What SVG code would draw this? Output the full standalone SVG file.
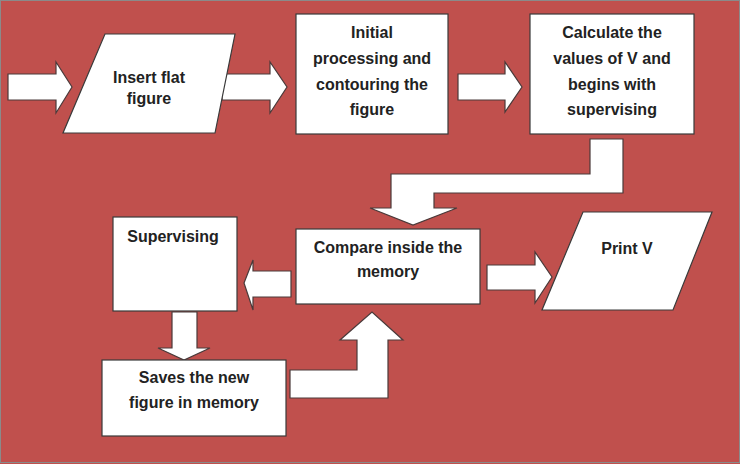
<svg xmlns="http://www.w3.org/2000/svg" width="740" height="464" viewBox="0 0 740 464">
<style>
.shape{fill:#fff;stroke:#3a3a3a;stroke-width:1.2}
.arrow{fill:#fff;stroke:#4a3a3a;stroke-width:1.2;stroke-linejoin:miter}
text{font-family:"Liberation Sans",Arial,sans-serif;font-weight:bold;font-size:16px;fill:#222;text-anchor:middle}
</style>
<rect x="0" y="0" width="740" height="464" fill="#C0504D"/>
<rect x="0.5" y="0.5" width="739" height="462" fill="none" stroke="#8a8a8a" stroke-width="1"/>
<g id="connectors">
<path class="arrow" d="M8,74 L56,74 L56,62 L72,87 L56,113 L56,100 L8,100 Z"/>
<path class="arrow" d="M222,74 L270,74 L270,62 L287,87 L270,113 L270,100 L222,100 Z"/>
<path class="arrow" d="M458,74 L505,74 L505,62 L522,87 L505,112 L505,100 L458,100 Z"/>
<path class="arrow" d="M590,139 L623,139 L623,193 L434,193 L434,208 L457,208 L413,225 L370,208 L391,208 L391,174 L590,174 Z"/>
<path class="arrow" d="M291,271 L253,271 L253,260 L244,283 L253,310 L253,297 L291,297 Z"/>
<path class="arrow" d="M487,265 L535,265 L535,252 L552,277 L535,303 L535,290 L487,290 Z"/>
<path class="arrow" d="M172,312 L197,312 L197,348 L210,348 L184,360 L158,348 L172,348 Z"/>
<path class="arrow" d="M290,370 L357,370 L357,340 L340,340 L372,312 L403,340 L388,340 L388,398 L290,398 Z"/>
</g>
<g id="insert">
<polygon class="shape" points="105,34 235,34 215,133 63,133"/>
<text x="149" y="83">Insert flat</text>
<text x="149" y="104">figure</text>
</g>
<g id="initial">
<rect class="shape" x="296" y="14" width="152" height="120"/>
<text x="372" y="38">Initial</text>
<text x="372" y="64">processing and</text>
<text x="372" y="90">contouring the</text>
<text x="372" y="115">figure</text>
</g>
<g id="calculate">
<rect class="shape" x="530" y="14" width="164" height="120"/>
<text x="612" y="38">Calculate the</text>
<text x="612" y="64">values of V and</text>
<text x="612" y="90">begins with</text>
<text x="612" y="115">supervising</text>
</g>
<g id="compare">
<rect class="shape" x="296" y="229" width="184" height="75"/>
<text x="388" y="253">Compare inside the</text>
<text x="388" y="277">memory</text>
</g>
<g id="supervising">
<rect class="shape" x="113" y="217" width="124" height="94"/>
<text x="173" y="242">Supervising</text>
</g>
<g id="print">
<polygon class="shape" points="583,212 712,212 673,310 542,310"/>
<text x="627" y="254">Print V</text>
</g>
<g id="saves">
<rect class="shape" x="102" y="360" width="184" height="76"/>
<text x="194" y="383">Saves the new</text>
<text x="194" y="408">figure in memory</text>
</g>
</svg>
